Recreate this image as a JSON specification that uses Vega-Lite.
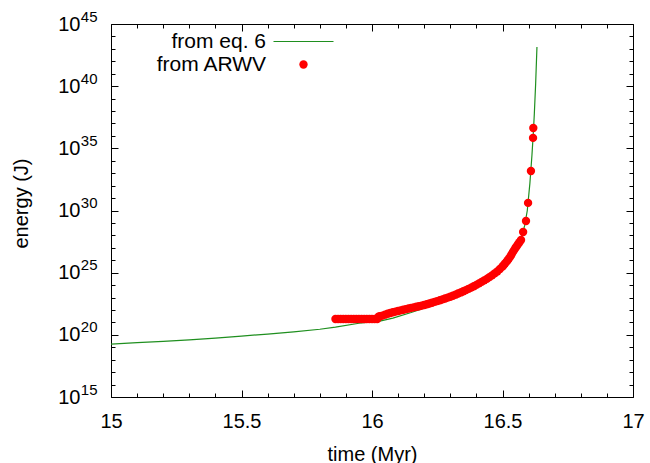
{
  "$schema": "https://vega.github.io/schema/vega-lite/v6.json",
  "width": 522,
  "height": 373,
  "autosize": {"type": "none"},
  "padding": {"left": 111, "top": 24, "right": 17, "bottom": 66},
  "background": "white",
  "config": {
    "view": {"stroke": "black", "strokeWidth": 1},
    "font": "Liberation Sans",
    "axis": {"grid": false, "domain": false, "tickColor": "black", "tickWidth": 1, "labelFont": "Liberation Sans", "titleFont": "Liberation Sans", "labelColor": "black", "titleColor": "black", "labelFontSize": 20, "titleFontSize": 20, "titleFontWeight": "normal", "labelFlush": false, "labelOverlap": false},
    "legend": {"labelFont": "Liberation Sans", "labelFontSize": 21, "labelColor": "black", "labelAlign": "right", "labelOffset": -48, "symbolSize": 64, "rowPadding": 2, "padding": 0, "orient": "none", "symbolOpacity": 1}
  },
  "datasets": {
    "eq6": [
      {"t": 15.0, "E": 1.820e19, "series": "from eq. 6"},
      {"t": 15.1, "E": 2.344e19, "series": "from eq. 6"},
      {"t": 15.2, "E": 3.020e19, "series": "from eq. 6"},
      {"t": 15.3, "E": 3.981e19, "series": "from eq. 6"},
      {"t": 15.4, "E": 5.495e19, "series": "from eq. 6"},
      {"t": 15.5, "E": 7.943e19, "series": "from eq. 6"},
      {"t": 15.6, "E": 1.148e20, "series": "from eq. 6"},
      {"t": 15.7, "E": 1.738e20, "series": "from eq. 6"},
      {"t": 15.8, "E": 2.818e20, "series": "from eq. 6"},
      {"t": 15.86, "E": 4.169e20, "series": "from eq. 6"},
      {"t": 15.95, "E": 8.511e20, "series": "from eq. 6"},
      {"t": 16.03, "E": 1.259e21, "series": "from eq. 6"},
      {"t": 16.08, "E": 2.239e21, "series": "from eq. 6"},
      {"t": 16.15, "E": 6.310e21, "series": "from eq. 6"},
      {"t": 16.2, "E": 1.413e22, "series": "from eq. 6"},
      {"t": 16.25, "E": 3.548e22, "series": "from eq. 6"},
      {"t": 16.3, "E": 9.550e22, "series": "from eq. 6"},
      {"t": 16.35, "E": 2.818e23, "series": "from eq. 6"},
      {"t": 16.4, "E": 9.550e23, "series": "from eq. 6"},
      {"t": 16.45, "E": 5.012e24, "series": "from eq. 6"},
      {"t": 16.5, "E": 3.162e25, "series": "from eq. 6"},
      {"t": 16.54, "E": 3.981e26, "series": "from eq. 6"},
      {"t": 16.56, "E": 1.995e27, "series": "from eq. 6"},
      {"t": 16.575, "E": 1e28, "series": "from eq. 6"},
      {"t": 16.585, "E": 6.310e28, "series": "from eq. 6"},
      {"t": 16.595, "E": 1e30, "series": "from eq. 6"},
      {"t": 16.605, "E": 1.585e32, "series": "from eq. 6"},
      {"t": 16.613, "E": 3.162e34, "series": "from eq. 6"},
      {"t": 16.618, "E": 1.585e36, "series": "from eq. 6"},
      {"t": 16.622, "E": 6.310e37, "series": "from eq. 6"},
      {"t": 16.627, "E": 1.585e40, "series": "from eq. 6"},
      {"t": 16.632, "E": 1.413e43, "series": "from eq. 6"}
    ],
    "arwv": [
      {"t": 15.86, "E": 1.862e21, "series": "from ARWV"},
      {"t": 15.87, "E": 1.862e21, "series": "from ARWV"},
      {"t": 15.88, "E": 1.862e21, "series": "from ARWV"},
      {"t": 15.89, "E": 1.862e21, "series": "from ARWV"},
      {"t": 15.90, "E": 1.862e21, "series": "from ARWV"},
      {"t": 15.91, "E": 1.862e21, "series": "from ARWV"},
      {"t": 15.92, "E": 1.862e21, "series": "from ARWV"},
      {"t": 15.93, "E": 1.862e21, "series": "from ARWV"},
      {"t": 15.94, "E": 1.862e21, "series": "from ARWV"},
      {"t": 15.95, "E": 1.862e21, "series": "from ARWV"},
      {"t": 15.96, "E": 1.862e21, "series": "from ARWV"},
      {"t": 15.97, "E": 1.862e21, "series": "from ARWV"},
      {"t": 15.98, "E": 1.862e21, "series": "from ARWV"},
      {"t": 15.99, "E": 1.862e21, "series": "from ARWV"},
      {"t": 16.00, "E": 1.862e21, "series": "from ARWV"},
      {"t": 16.01, "E": 1.862e21, "series": "from ARWV"},
      {"t": 16.02, "E": 1.862e21, "series": "from ARWV"},
      {"t": 16.025, "E": 2.818e21, "series": "from ARWV"},
      {"t": 16.03, "E": 3.162e21, "series": "from ARWV"},
      {"t": 16.04, "E": 3.548e21, "series": "from ARWV"},
      {"t": 16.05, "E": 4.169e21, "series": "from ARWV"},
      {"t": 16.06, "E": 5.012e21, "series": "from ARWV"},
      {"t": 16.07, "E": 5.754e21, "series": "from ARWV"},
      {"t": 16.08, "E": 6.607e21, "series": "from ARWV"},
      {"t": 16.09, "E": 7.413e21, "series": "from ARWV"},
      {"t": 16.10, "E": 8.318e21, "series": "from ARWV"},
      {"t": 16.11, "E": 9.333e21, "series": "from ARWV"},
      {"t": 16.12, "E": 1.047e22, "series": "from ARWV"},
      {"t": 16.13, "E": 1.175e22, "series": "from ARWV"},
      {"t": 16.14, "E": 1.318e22, "series": "from ARWV"},
      {"t": 16.15, "E": 1.462e22, "series": "from ARWV"},
      {"t": 16.16, "E": 1.622e22, "series": "from ARWV"},
      {"t": 16.17, "E": 1.799e22, "series": "from ARWV"},
      {"t": 16.18, "E": 1.995e22, "series": "from ARWV"},
      {"t": 16.19, "E": 2.239e22, "series": "from ARWV"},
      {"t": 16.20, "E": 2.512e22, "series": "from ARWV"},
      {"t": 16.21, "E": 2.884e22, "series": "from ARWV"},
      {"t": 16.22, "E": 3.311e22, "series": "from ARWV"},
      {"t": 16.23, "E": 3.846e22, "series": "from ARWV"},
      {"t": 16.24, "E": 4.467e22, "series": "from ARWV"},
      {"t": 16.25, "E": 5.188e22, "series": "from ARWV"},
      {"t": 16.26, "E": 6.026e22, "series": "from ARWV"},
      {"t": 16.27, "E": 7.079e22, "series": "from ARWV"},
      {"t": 16.28, "E": 8.318e22, "series": "from ARWV"},
      {"t": 16.29, "E": 9.772e22, "series": "from ARWV"},
      {"t": 16.30, "E": 1.148e23, "series": "from ARWV"},
      {"t": 16.31, "E": 1.396e23, "series": "from ARWV"},
      {"t": 16.32, "E": 1.698e23, "series": "from ARWV"},
      {"t": 16.33, "E": 2.089e23, "series": "from ARWV"},
      {"t": 16.34, "E": 2.570e23, "series": "from ARWV"},
      {"t": 16.35, "E": 3.199e23, "series": "from ARWV"},
      {"t": 16.36, "E": 3.981e23, "series": "from ARWV"},
      {"t": 16.37, "E": 5.012e23, "series": "from ARWV"},
      {"t": 16.38, "E": 6.310e23, "series": "from ARWV"},
      {"t": 16.39, "E": 8.128e23, "series": "from ARWV"},
      {"t": 16.40, "E": 1.047e24, "series": "from ARWV"},
      {"t": 16.41, "E": 1.380e24, "series": "from ARWV"},
      {"t": 16.42, "E": 1.820e24, "series": "from ARWV"},
      {"t": 16.43, "E": 2.399e24, "series": "from ARWV"},
      {"t": 16.44, "E": 3.162e24, "series": "from ARWV"},
      {"t": 16.45, "E": 4.365e24, "series": "from ARWV"},
      {"t": 16.46, "E": 6.026e24, "series": "from ARWV"},
      {"t": 16.47, "E": 8.710e24, "series": "from ARWV"},
      {"t": 16.48, "E": 1.259e25, "series": "from ARWV"},
      {"t": 16.49, "E": 1.995e25, "series": "from ARWV"},
      {"t": 16.50, "E": 3.162e25, "series": "from ARWV"},
      {"t": 16.505, "E": 4.169e25, "series": "from ARWV"},
      {"t": 16.51, "E": 5.623e25, "series": "from ARWV"},
      {"t": 16.515, "E": 7.413e25, "series": "from ARWV"},
      {"t": 16.52, "E": 1e26, "series": "from ARWV"},
      {"t": 16.525, "E": 1.413e26, "series": "from ARWV"},
      {"t": 16.53, "E": 1.995e26, "series": "from ARWV"},
      {"t": 16.535, "E": 3.020e26, "series": "from ARWV"},
      {"t": 16.54, "E": 4.677e26, "series": "from ARWV"},
      {"t": 16.545, "E": 6.761e26, "series": "from ARWV"},
      {"t": 16.55, "E": 1e27, "series": "from ARWV"},
      {"t": 16.555, "E": 1.413e27, "series": "from ARWV"},
      {"t": 16.56, "E": 1.995e27, "series": "from ARWV"},
      {"t": 16.565, "E": 2.818e27, "series": "from ARWV"},
      {"t": 16.571, "E": 4.266e27, "series": "from ARWV"},
      {"t": 16.579, "E": 1.862e28, "series": "from ARWV"},
      {"t": 16.59, "E": 1.445e29, "series": "from ARWV"},
      {"t": 16.598, "E": 4.074e30, "series": "from ARWV"},
      {"t": 16.609, "E": 1.514e33, "series": "from ARWV"},
      {"t": 16.617, "E": 6.918e35, "series": "from ARWV"},
      {"t": 16.618, "E": 4.365e36, "series": "from ARWV"}
    ]
  },
  "resolve": {"axis": {"x": "independent", "y": "independent"}},
  "layer": [
    {
      "data": {"name": "eq6"},
      "mark": {"type": "line", "strokeWidth": 1.2, "clip": true},
      "encoding": {
        "x": {"field": "t", "type": "quantitative", "scale": {"domain": [15, 17], "nice": false, "zero": false},
          "axis": {"orient": "bottom", "title": "time (Myr)", "values": [15, 15.5, 16, 16.5, 17], "tickSize": 7, "offset": -7,
            "labelExpr": "'' + datum.value", "labelPadding": 14, "titleY": 70, "titleBaseline": "alphabetic"}},
        "y": {"field": "E", "type": "quantitative", "scale": {"type": "log", "domain": [1e15, 1e45], "nice": false},
          "axis": {"orient": "left", "title": "energy (J)", "values": [1e15, 1e20, 1e25, 1e30, 1e35, 1e40, 1e45], "tickSize": 7, "offset": -7,
            "labelExpr": "'10'", "labelPadding": 31,
            "titleAngle": 270, "titleX": -97, "titleY": 179, "titleBaseline": "middle", "titleAlign": "center"}},
        "stroke": {"field": "series", "type": "nominal",
          "scale": {"domain": ["from eq. 6"], "range": ["#1f8f1f"]},
          "legend": {"title": null, "legendX": 182, "legendY": 7, "symbolType": "M-7.5,0H7.5", "symbolStrokeColor": "#1f8f1f", "symbolStrokeWidth": 1.2, "symbolFillColor": "transparent"}}
      }
    },
    {
      "data": {"name": "arwv"},
      "mark": {"type": "point", "filled": true, "size": 70, "opacity": 1, "shape": "circle"},
      "encoding": {
        "x": {"field": "t", "type": "quantitative",
          "axis": {"orient": "top", "title": null, "labels": false, "values": [15, 15.5, 16, 16.5, 17], "tickSize": 7, "offset": -7}},
        "y": {"field": "E", "type": "quantitative",
          "axis": {"orient": "right", "title": null, "labels": false, "values": [1e15, 1e20, 1e25, 1e30, 1e35, 1e40, 1e45], "tickSize": 7, "offset": -7}},
        "fill": {"field": "series", "type": "nominal",
          "scale": {"domain": ["from ARWV"], "range": ["#ff0000"]},
          "legend": {"title": null, "legendX": 182, "legendY": 30, "symbolType": "circle", "symbolSize": 70}}
      }
    },
    {
      "data": {"name": "arwv"},
      "mark": {"type": "point", "opacity": 0},
      "encoding": {
        "x": {"field": "t", "type": "quantitative",
          "axis": {"orient": "bottom", "title": null, "labels": false, "values": [15.1,15.2,15.3,15.4,15.6,15.7,15.8,15.9,16.1,16.2,16.3,16.4,16.6,16.7,16.8,16.9], "tickSize": 4, "offset": -4}},
        "y": {"field": "E", "type": "quantitative",
          "axis": {"orient": "left", "title": null, "ticks": false, "values": [1e15, 1e20, 1e25, 1e30, 1e35, 1e40, 1e45],
            "labelExpr": "'' + round(log(datum.value)/LN10)", "labelFontSize": 15, "labelPadding": 14, "labelOffset": -8}}
      }
    },
    {
      "data": {"name": "arwv"},
      "mark": {"type": "point", "opacity": 0},
      "encoding": {
        "x": {"field": "t", "type": "quantitative",
          "axis": {"orient": "top", "title": null, "labels": false, "values": [15.1,15.2,15.3,15.4,15.6,15.7,15.8,15.9,16.1,16.2,16.3,16.4,16.6,16.7,16.8,16.9], "tickSize": 4, "offset": -4}},
        "y": {"field": "E", "type": "quantitative",
          "axis": {"orient": "right", "title": null, "labels": false, "values": [1e16,1e17,1e18,1e19,1e21,1e22,1e23,1e24,1e26,1e27,1e28,1e29,1e31,1e32,1e33,1e34,1e36,1e37,1e38,1e39,1e41,1e42,1e43,1e44], "tickSize": 4, "offset": -4}}
      }
    },
    {
      "data": {"name": "arwv"},
      "mark": {"type": "point", "opacity": 0},
      "encoding": {
        "x": {"field": "t", "type": "quantitative", "axis": null},
        "y": {"field": "E", "type": "quantitative",
          "axis": {"orient": "left", "title": null, "labels": false, "values": [1e16,1e17,1e18,1e19,1e21,1e22,1e23,1e24,1e26,1e27,1e28,1e29,1e31,1e32,1e33,1e34,1e36,1e37,1e38,1e39,1e41,1e42,1e43,1e44], "tickSize": 4, "offset": -4}}
      }
    }
  ]
}
